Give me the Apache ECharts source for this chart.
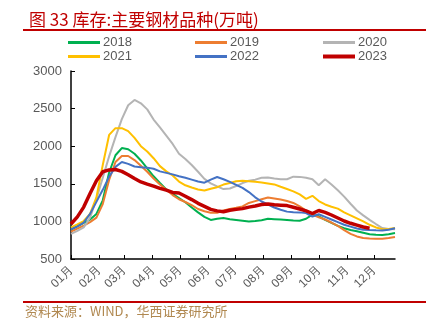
<!DOCTYPE html>
<html><head><meta charset="utf-8">
<script src="https://cdn.jsdelivr.net/npm/echarts@6/dist/echarts.min.js"></script>
<style>html,body{margin:0;padding:0;background:#fff}#c{width:430px;height:325px}</style>
</head><body><div id="c"></div>
<script>
// weekly observation dates (MM-DD)
var dates = ['01-01','01-08','01-15','01-22','01-29','02-05','02-12','02-19','02-26','03-05','03-12','03-19','03-26',
 '04-02','04-09','04-16','04-23','04-30','05-07','05-14','05-21','05-28','06-04','06-11','06-18','06-25',
 '07-02','07-09','07-16','07-23','07-30','08-06','08-13','08-20','08-27','09-03','09-10','09-17','09-24',
 '10-01','10-08','10-15','10-22','10-29','11-05','11-12','11-19','11-26','12-03','12-10','12-17','12-24'];
var monthLabels = ['01月','02月','03月','04月','05月','06月','07月','08月','09月','10月','11月','12月'];
var seriesNames = ['2018','2019','2020','2021','2022','2023'];

var v2018 = [890,935,980,1025,1100,1280,1650,1880,1975,1960,1900,1810,1705,1600,1510,1425,1365,1310,1255,1185,1120,1060,1020,1035,1045,1030,1020,1010,1000,1005,1015,1035,1030,1025,1020,1012,1008,1035,1090,1068,1020,980,940,910,885,870,850,830,822,820,830,845];
var v2019 = [865,905,945,990,1050,1230,1550,1790,1870,1870,1815,1740,1660,1570,1490,1420,1350,1295,1258,1215,1165,1135,1115,1115,1145,1165,1182,1200,1245,1270,1295,1318,1305,1290,1272,1245,1200,1145,1090,1055,1025,985,940,885,835,800,780,772,768,768,778,792];
var v2020 = [835,875,920,1050,1300,1580,1865,2120,2360,2545,2615,2570,2490,2355,2250,2140,2030,1900,1830,1750,1660,1565,1505,1465,1430,1438,1470,1510,1540,1555,1580,1585,1570,1562,1560,1595,1592,1580,1560,1480,1560,1490,1415,1330,1235,1145,1080,1020,965,912,900,895];
var v2021 = [920,960,1005,1100,1320,1750,2150,2240,2240,2200,2110,2000,1930,1840,1735,1665,1610,1530,1480,1450,1425,1410,1435,1455,1490,1510,1535,1540,1535,1528,1518,1505,1492,1460,1430,1400,1360,1300,1340,1270,1225,1195,1170,1120,1080,1040,1000,955,920,897,898,912];
var v2022 = [895,935,985,1100,1260,1420,1595,1725,1790,1765,1730,1720,1715,1700,1665,1645,1625,1600,1580,1555,1530,1515,1555,1590,1560,1525,1485,1445,1390,1320,1265,1225,1185,1155,1130,1122,1120,1110,1065,1095,1060,1025,990,955,930,905,890,885,882,880,890,910];
var v2023 = [965,1060,1190,1370,1540,1660,1685,1690,1665,1620,1570,1525,1495,1470,1440,1415,1385,1378,1335,1290,1240,1200,1160,1140,1128,1148,1160,1170,1190,1205,1225,1232,1220,1215,1210,1188,1165,1140,1105,1145,1120,1085,1045,1005,975,950,925,908];

var monthStart = [0,31,59,90,120,151,181,212,243,273,304,334];
function dayOf(s){ var p = s.split('-'); return monthStart[+p[0]-1] + (+p[1]) - 1; }
function pairs(vals){ return vals.map(function(v,i){ return [dayOf(dates[i]), v]; }); }

var colors = ['#00b050','#ed7d31','#b4b4b4','#ffc000','#4472c4','#c00000'];
var widths = [2,2,2,2,2,3.5];
var allVals = [v2018,v2019,v2020,v2021,v2022,v2023];

var chart = echarts.init(document.getElementById('c'), null, {renderer:'canvas'});
var legendPos = [[68,36],[195,36],[323,36],[68,50],[195,50],[323,50]];
var legends = seriesNames.map(function(n,i){
  return {left:legendPos[i][0], top:legendPos[i][1], data:[n], itemWidth:32, itemHeight:(i===5?4:3), icon:'rect',
    itemGap:0, padding:0, selectedMode:false,
    textStyle:{color:'#595959', fontSize:13, fontFamily:'Liberation Sans', padding:[0,0,0,-2]}};
});
var option = {
  animation:false,
  color: colors,
  title:{
    text:'图 33 库存:主要钢材品种(万吨)', left:24, top:6,
    textStyle:{color:'#c00000', fontSize:17, fontWeight:'normal', fontFamily:'Noto Sans CJK SC'}
  },
  graphic:[
    {type:'rect', shape:{x:23,y:29,width:403,height:2}, style:{fill:'#c00000'}},
    {type:'rect', shape:{x:23,y:301,width:403,height:2}, style:{fill:'#c00000'}},
    {type:'text', left:25, top:305, style:{text:'资料来源：WIND，华西证券研究所', fill:'#b08850', fontSize:13, fontFamily:'Noto Sans CJK SC'}}
  ],
  legend:legends,
  grid:{left:71, right:35, top:71, bottom:66, containLabel:false},
  xAxis:{
    type:'value', min:0, max:357,
    axisLine:{show:true, lineStyle:{color:'#000', width:1.5}},
    axisTick:{show:true, inside:true, length:4, customValues:monthStart, lineStyle:{color:'#000', width:1}},
    axisLabel:{customValues:monthStart, rotate:45, color:'#595959', fontSize:12, fontFamily:'Liberation Sans', margin:9,
      formatter:function(v){ var i = monthStart.indexOf(v); return i>=0 ? monthLabels[i] : ''; }},
    splitLine:{show:false}
  },
  yAxis:{
    type:'value', min:500, max:3000, interval:500,
    axisLine:{show:true, lineStyle:{color:'#000', width:1.5}},
    axisTick:{show:true, inside:true, length:4, lineStyle:{color:'#000'}},
    axisLabel:{color:'#595959', fontSize:13, fontFamily:'Liberation Sans', margin:9,
      formatter:function(v){ return String(v); }},
    splitLine:{show:false}
  },
  series: seriesNames.map(function(n,i){
    return {name:n, type:'line', data:pairs(allVals[i]), showSymbol:false, symbol:'none',
      lineStyle:{width:widths[i], color:colors[i]}, itemStyle:{color:colors[i]}, z:2+i};
  })
};
chart.setOption(option);
</script></body></html>
